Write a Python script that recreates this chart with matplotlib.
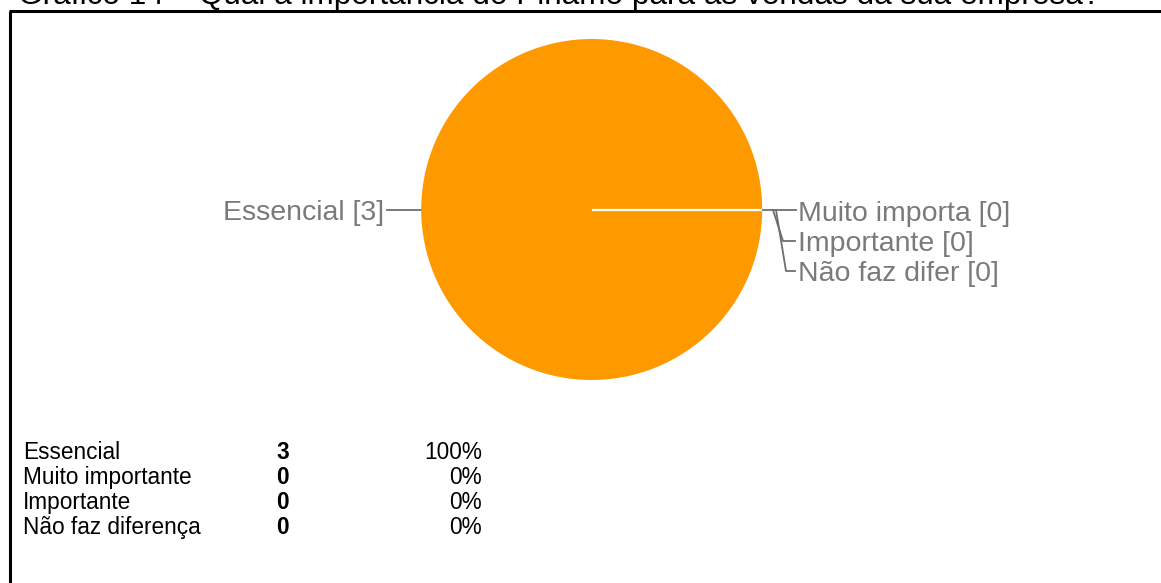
import matplotlib
matplotlib.use("Agg")
import matplotlib.pyplot as plt

# ---- data ----
title = "Gráfico 14 – Qual a importância do Pinamo para as vendas da sua empresa?"
pie_labels = ["Essencial", "Muito importa", "Importante", "Não faz difer"]
table_labels = ["Essencial", "Muito importante", "Importante", "Não faz diferença"]
counts = [3, 0, 0, 0]
total = sum(counts)
percents = [f"{round(100 * c / total)}%" for c in counts]

ORANGE = "#FF9900"
GRAY_TXT = "#7a7a7a"
GRAY_LINE = "#6e6e6e"
FONT = "Liberation Sans"

W, H = 1161, 583
fig = plt.figure(figsize=(W / 100, H / 100), dpi=100)
fig.patch.set_facecolor("white")

# background axes in pixel coordinates (for frame, text, leader lines)
bg = fig.add_axes([0, 0, 1, 1])
bg.set_xlim(0, W)
bg.set_ylim(H, 0)
bg.axis("off")

# title (mostly cut off at the top in the reference)
bg.text(18, 4, title, fontsize=22.7, family=FONT, color="black",
        ha="left", va="baseline", clip_on=False)

# frame (left and top borders)
bg.plot([10, 10], [10.5, H + 5], color="black", lw=2.2, solid_capstyle="butt")
bg.plot([8.5, W + 5], [10.5, 10.5], color="black", lw=2.2, solid_capstyle="butt")

# ---- pie ----
cx, cy, r = 591.7, 209.5, 170.5
pax = fig.add_axes([(cx - r) / W, 1 - (cy + r) / H, 2 * r / W, 2 * r / H])
wedges, _ = pax.pie(counts, colors=[ORANGE] * len(counts), startangle=0,
                    counterclock=False, radius=1.0,
                    wedgeprops=dict(linewidth=0, antialiased=True))
pax.plot([0, 1.0], [0, 0], color="white", lw=1.6, solid_capstyle="butt")
pax.set_xlim(-1, 1)
pax.set_ylim(-1, 1)
pax.set_aspect("equal")
pax.axis("off")

# ---- pie labels with leader lines ----
lfs = 20.5
# left label (Essencial)
bg.plot([387, 422], [210, 210], color=GRAY_LINE, lw=1.3)
bg.text(384, 210 + 10, f"{pie_labels[0]} [{counts[0]}]", fontsize=lfs, family=FONT,
        color=GRAY_TXT, ha="right", va="baseline")

# right labels (zero-size slices)
bg.plot([760, 796], [210, 210], color=GRAY_LINE, lw=1.3)
bg.plot([773, 783, 795], [210, 241, 241], color=GRAY_LINE, lw=1.3)
bg.plot([776, 786, 795], [210, 271, 271], color=GRAY_LINE, lw=1.3)
right_y = [211, 241, 271]
for lab, c, y in zip(pie_labels[1:], counts[1:], right_y):
    bg.text(798, y + 10, f"{lab} [{c}]", fontsize=lfs, family=FONT,
            color=GRAY_TXT, ha="left", va="baseline")

# ---- summary table ----
tfs = 16.3
row_base = [459.3, 484.3, 509.3, 534.3]
for lab, c, p, yb in zip(table_labels, counts, percents, row_base):
    bg.text(23, yb, lab, fontsize=tfs, family=FONT, color="black",
            ha="left", va="baseline")
    bg.text(276, yb, str(c), fontsize=tfs, family=FONT, fontweight="bold",
            color="black", ha="left", va="baseline")
    bg.text(482, yb, p, fontsize=tfs, family=FONT, color="black",
            ha="right", va="baseline")

fig.savefig("out.png", dpi=100, facecolor="white")
